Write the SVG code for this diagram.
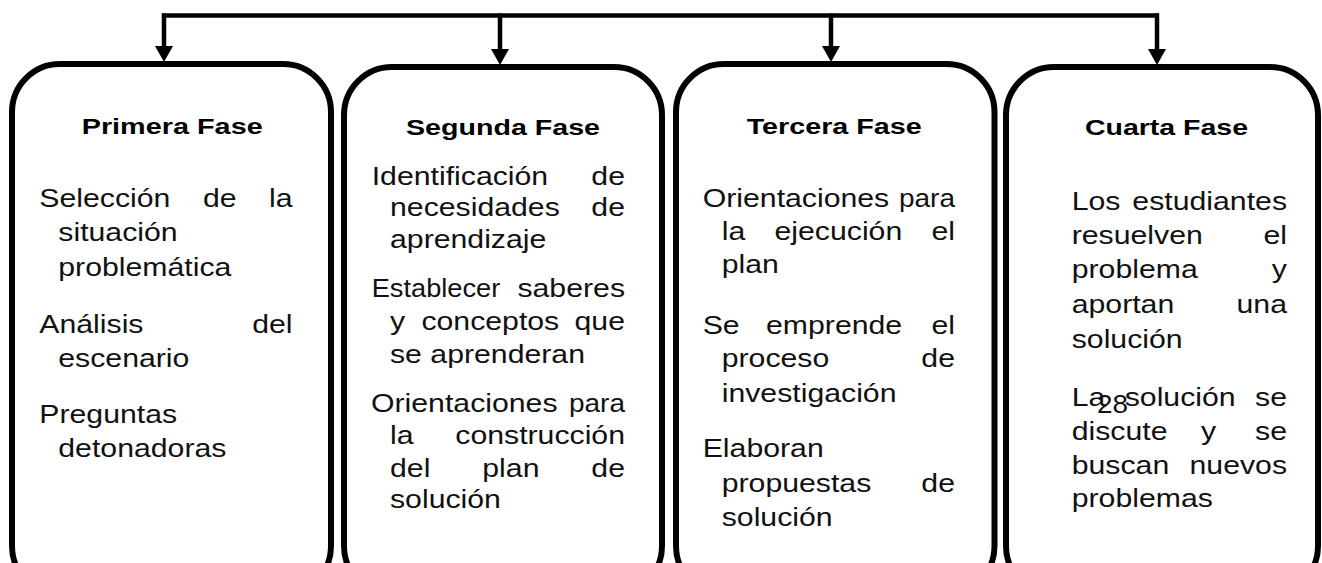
<svg xmlns="http://www.w3.org/2000/svg" width="1322" height="563" viewBox="0 0 1322 563">
<style>
.box{fill:#fff;stroke:#000;stroke-width:6}
.t{font-family:"Liberation Sans",Arial,sans-serif;font-size:25px;fill:#111}
.e{text-anchor:end}
.h{font-family:"Liberation Sans",Arial,sans-serif;font-size:22.5px;font-weight:bold;fill:#000}
.c{fill:none;stroke:#000;stroke-width:4.5}
</style>
<defs>
<marker id="ah" markerUnits="userSpaceOnUse" viewBox="0 0 16 18" refX="0" refY="9" markerWidth="16" markerHeight="18" orient="auto">
<path d="M0,0 L16,9 L0,18 z" fill="#000"/>
</marker>
</defs>
<rect width="1322" height="563" fill="#fff"/>
<g id="connectors">
<path class="c" d="M162,15.5 H1159"/>
<path class="c" d="M164,13.5 V46" marker-end="url(#ah)"/>
<path class="c" d="M500,13.5 V49" marker-end="url(#ah)"/>
<path class="c" d="M831,13.5 V46" marker-end="url(#ah)"/>
<path class="c" d="M1157,13.5 V49" marker-end="url(#ah)"/>
</g>
<g id="fase1">
<rect class="box" x="12" y="64" width="319" height="530" rx="48"/>
<text class="h" x="81.7" y="134" textLength="181" lengthAdjust="spacingAndGlyphs">Primera Fase</text>
<text class="t" transform="translate(39.3 207) scale(1.21 1)">Selección</text>
<text class="t" transform="translate(203 207) scale(1.21 1)">de</text>
<text class="t e" transform="translate(292.5 207) scale(1.21 1)">la</text>
<text class="t" transform="translate(58.3 241) scale(1.21 1)">situación</text>
<text class="t" transform="translate(58.3 276) scale(1.21 1)">problemática</text>
<text class="t" transform="translate(39.3 333) scale(1.21 1)">Análisis</text>
<text class="t e" transform="translate(292.5 333) scale(1.21 1)">del</text>
<text class="t" transform="translate(58.3 367) scale(1.21 1)">escenario</text>
<text class="t" transform="translate(39.3 423) scale(1.21 1)">Preguntas</text>
<text class="t" transform="translate(58.3 457) scale(1.21 1)">detonadoras</text>
</g>
<g id="fase2">
<rect class="box" x="344" y="67" width="318" height="527" rx="48"/>
<text class="h" x="406" y="135" textLength="194" lengthAdjust="spacingAndGlyphs">Segunda Fase</text>
<text class="t" transform="translate(371.7 185) scale(1.21 1)">Identificación</text>
<text class="t e" transform="translate(625 185) scale(1.21 1)">de</text>
<text class="t" transform="translate(390 216) scale(1.21 1)">necesidades</text>
<text class="t e" transform="translate(625 216) scale(1.21 1)">de</text>
<text class="t" transform="translate(390 248) scale(1.21 1)">aprendizaje</text>
<text class="t" transform="translate(371.7 297) scale(1.09 1)">Establecer</text>
<text class="t e" transform="translate(625 297) scale(1.21 1)">saberes</text>
<text class="t" transform="translate(390 330) scale(1.21 1)">y</text>
<text class="t" transform="translate(421.4 330) scale(1.21 1)">conceptos</text>
<text class="t e" transform="translate(625 330) scale(1.21 1)">que</text>
<text class="t" transform="translate(390 363) scale(1.21 1)">se aprenderan</text>
<text class="t" transform="translate(371 412) scale(1.21 1)">Orientaciones</text>
<text class="t e" transform="translate(625 412) scale(1.12 1)">para</text>
<text class="t" transform="translate(390 444) scale(1.21 1)">la</text>
<text class="t e" transform="translate(625 444) scale(1.21 1)">construcción</text>
<text class="t" transform="translate(390 476.5) scale(1.21 1)">del</text>
<text class="t" transform="translate(482.3 476.5) scale(1.21 1)">plan</text>
<text class="t e" transform="translate(625 476.5) scale(1.21 1)">de</text>
<text class="t" transform="translate(390 508) scale(1.21 1)">solución</text>
</g>
<g id="fase3">
<rect class="box" x="676" y="64" width="318.5" height="530" rx="48"/>
<text class="h" x="746.7" y="133.5" textLength="175" lengthAdjust="spacingAndGlyphs">Tercera Fase</text>
<text class="t" transform="translate(702.7 207) scale(1.21 1)">Orientaciones</text>
<text class="t e" transform="translate(955 207) scale(1.12 1)">para</text>
<text class="t" transform="translate(721.7 240) scale(1.21 1)">la</text>
<text class="t" transform="translate(774.5 240) scale(1.21 1)">ejecución</text>
<text class="t e" transform="translate(955 240) scale(1.21 1)">el</text>
<text class="t" transform="translate(721.7 273) scale(1.21 1)">plan</text>
<text class="t" transform="translate(702.7 333.5) scale(1.21 1)">Se</text>
<text class="t" transform="translate(766 333.5) scale(1.21 1)">emprende</text>
<text class="t e" transform="translate(955 333.5) scale(1.21 1)">el</text>
<text class="t" transform="translate(721.7 367) scale(1.21 1)">proceso</text>
<text class="t e" transform="translate(955 367) scale(1.21 1)">de</text>
<text class="t" transform="translate(721.7 401.5) scale(1.21 1)">investigación</text>
<text class="t" transform="translate(702.7 457) scale(1.21 1)">Elaboran</text>
<text class="t" transform="translate(721.7 492) scale(1.21 1)">propuestas</text>
<text class="t e" transform="translate(955 492) scale(1.21 1)">de</text>
<text class="t" transform="translate(721.7 526) scale(1.21 1)">solución</text>
</g>
<g id="fase4">
<rect class="box" x="1006" y="67" width="312" height="527" rx="48"/>
<text class="h" x="1085" y="135" textLength="163" lengthAdjust="spacingAndGlyphs">Cuarta Fase</text>
<text class="t" transform="translate(1071.7 210) scale(1.21 1)">Los</text>
<text class="t e" transform="translate(1287 210) scale(1.21 1)">estudiantes</text>
<text class="t" transform="translate(1071.7 244) scale(1.21 1)">resuelven</text>
<text class="t e" transform="translate(1287 244) scale(1.21 1)">el</text>
<text class="t" transform="translate(1071.7 278) scale(1.21 1)">problema</text>
<text class="t e" transform="translate(1287 278) scale(1.21 1)">y</text>
<text class="t" transform="translate(1071.7 313) scale(1.21 1)">aportan</text>
<text class="t e" transform="translate(1287 313) scale(1.21 1)">una</text>
<text class="t" transform="translate(1071.7 347.5) scale(1.21 1)">solución</text>
<text class="t" transform="translate(1071.7 406) scale(1.21 1)">La</text>
<text class="t" transform="translate(1124.7 406) scale(1.21 1)">solución</text>
<text class="t e" transform="translate(1287 406) scale(1.21 1)">se</text>
<text class="t" transform="translate(1071.7 440) scale(1.21 1)">discute</text>
<text class="t" transform="translate(1201 440) scale(1.21 1)">y</text>
<text class="t e" transform="translate(1287 440) scale(1.21 1)">se</text>
<text class="t" transform="translate(1071.7 474) scale(1.21 1)">buscan</text>
<text class="t e" transform="translate(1287 474) scale(1.21 1)">nuevos</text>
<text class="t" transform="translate(1071.7 507) scale(1.21 1)">problemas</text>
</g>
<text id="pagina" class="t" x="1097" y="413" textLength="31" lengthAdjust="spacingAndGlyphs">28</text>
</svg>
